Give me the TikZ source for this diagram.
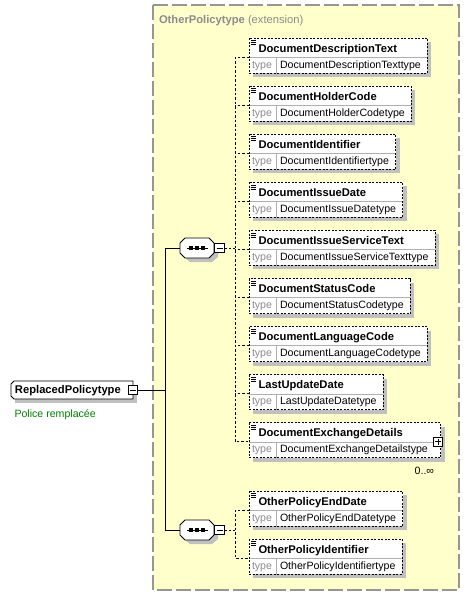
\documentclass[tikz,border=0pt]{standalone}
\usepackage{fontspec}
\setmainfont{Liberation Sans}
\definecolor{bgy}{RGB}{255,255,204}
\definecolor{shd}{RGB}{192,192,192}
\definecolor{framec}{RGB}{150,150,150}
\definecolor{ttl}{RGB}{140,140,140}
\definecolor{grn}{RGB}{0,128,0}
\definecolor{divc}{RGB}{175,175,175}
\newcommand\nmfont{\fontsize{11.2}{13}\selectfont\bfseries}
\newcommand\tyfont{\fontsize{10.6}{12}\selectfont}
\tikzset{
  x=1pt, y=-1pt,
  txt/.style={inner sep=0pt, outer sep=0pt},
  elborder/.style={draw=black, line width=0.8pt, dash pattern=on 2pt off 1.5pt},
  dconn/.style={draw=black, line width=0.8pt, dash pattern=on 2.5pt off 2pt},
  sconn/.style={draw=black, line width=0.9pt},
  smallbox/.style={draw=black, fill=white, line width=0.7pt, minimum size=9.5pt, inner sep=0pt, outer sep=0pt},
}
% #1 extra width, #2 id, #3 top, #4 name, #5 type
\newcommand\elem[5][0]{%
  \path node[txt, anchor=base west, font=\tyfont] (#2-ms) at (280,#3+30) {\phantom{#5}};
  \path (#2-ms.east); \pgfgetlastxy{\xx}{\yy}%
  \pgfmathsetmacro\rx{\xx+6.5+#1}%
  \fill[shd] (253,#3+4) rectangle (\rx+4,#3+39);
  \fill[white] (249,#3) rectangle (\rx,#3+35);
  \draw[divc] (249,#3+19) -- (\rx,#3+19);
  \draw[divc] (276.5,#3+19) -- (276.5,#3+35);
  \draw[elborder] (249,#3) rectangle (\rx,#3+35);
  \foreach \k in {2.5,4.5,6.5} \draw[line width=0.6pt] (251,#3+\k) -- (256,#3+\k);
  \node[txt, anchor=base west, font=\nmfont] (#2) at (258.5,#3+14) {#4};
  \node[txt, anchor=base west, font=\tyfont, text=ttl] (#2-tl) at (252,#3+30) {type};
  \node[txt, anchor=base west, font=\tyfont] (#2-ty) at (280,#3+30) {#5};
  \coordinate (#2-in) at (249,#3+19);
}
% #1 id, #2 centre y
\newcommand\seqbox[2]{%
  \fill[shd] (190,#2-6) -- (212,#2-6) -- (218,#2-1) -- (218,#2+9) -- (212,#2+14) -- (190,#2+14) -- (184,#2+9) -- (184,#2-1) -- cycle;
  \draw[fill=white, line width=0.8pt] (185,#2-10) -- (209,#2-10) -- (214,#2-5) -- (214,#2+5) -- (209,#2+10) -- (185,#2+10) -- (180,#2+5) -- (180,#2-5) -- cycle;
  \draw[line width=0.8pt] (187,#2) -- (207.5,#2);
  \foreach \u in {191,197,203} \fill (\u-1.6,#2-1.6) rectangle (\u+1.6,#2+1.6);
  \coordinate (#1) at (180,#2);
  \node[smallbox] (#1m) at (219.5,#2) {};
  \draw[line width=0.8pt] (216.5,#2) -- (222.5,#2);
}
\begin{document}
\begin{tikzpicture}
\useasboundingbox (0,0) rectangle (470,595);
\fill[white] (0,0) rectangle (470,595);
% extension frame
\draw[framec, fill=bgy, line width=1.1pt, dash pattern=on 15pt off 4pt] (153,5) rectangle (459,590);
\node[txt, anchor=base west, text=ttl, font=\fontsize{11.2}{13}\selectfont] (title) at (159,23)
  {\textbf{OtherPolicytype} (extension)};
% root element
\fill[shd] (15,385) rectangle (137,403);
\draw[fill=white, line width=0.8pt] (14,381) -- (133,381) -- (133,399) -- (14,399) -- (11,396) -- (11,384) -- cycle;
\node[txt, anchor=base west, font=\nmfont] (root) at (15,393.5) {ReplacedPolicytype};
\node[smallbox] (rootm) at (133,390) {};
\draw[line width=0.8pt] (130,390) -- (136,390);
\node[txt, anchor=base west, font=\tyfont, text=grn] (rootdoc) at (14.5,417) {Police remplacée};
% sequences
\seqbox{s1}{248}
\seqbox{s2}{530}
\coordinate (jv) at (165,390);
\draw[sconn] (rootm.east) -- (jv);
\draw[sconn] (s1) -| (jv);
\draw[sconn] (s2) -| (jv);
% elements of first sequence
\elem{e1}{38}{DocumentDescriptionText}{DocumentDescriptionTexttype}
\elem{e2}{86.1}{DocumentHolderCode}{DocumentHolderCodetype}
\elem{e3}{134.2}{DocumentIdentifier}{DocumentIdentifiertype}
\elem{e4}{182.3}{DocumentIssueDate}{DocumentIssueDatetype}
\elem{e5}{230.4}{DocumentIssueServiceText}{DocumentIssueServiceTexttype}
\elem{e6}{278.5}{DocumentStatusCode}{DocumentStatusCodetype}
\elem{e7}{326.6}{DocumentLanguageCode}{DocumentLanguageCodetype}
\elem{e8}{374.7}{LastUpdateDate}{LastUpdateDatetype}
\elem[6.5]{e9}{422.8}{DocumentExchangeDetails}{DocumentExchangeDetailstype}
\node[smallbox] (e9p) at (\rx-3,441.8) {};
\draw[line width=0.7pt] (\rx-6,441.8) -- (\rx,441.8) (\rx-3,438.8) -- (\rx-3,444.8);
\node[txt, anchor=base east, font=\tyfont] (e9occ) at (434,474) {0..∞};
% elements of second sequence
\elem{e10}{491}{OtherPolicyEndDate}{OtherPolicyEndDatetype}
\elem{e11}{539}{OtherPolicyIdentifier}{OtherPolicyIdentifiertype}
% dashed connectors
\coordinate (d1) at (235,248);
\coordinate (d2) at (235,530);
\draw[dconn] (s1m.east) -- (d1);
\draw[dconn] (e1-in) -- (e1-in -| d1) -- (e9-in -| d1) -- (e9-in);
\foreach \i in {2,...,8} \draw[dconn] (e\i-in) -- (e\i-in -| d1);
\draw[dconn] (s2m.east) -- (d2);
\draw[dconn] (e10-in) -- (e10-in -| d2) -- (e11-in -| d2) -- (e11-in);
\end{tikzpicture}
\end{document}
